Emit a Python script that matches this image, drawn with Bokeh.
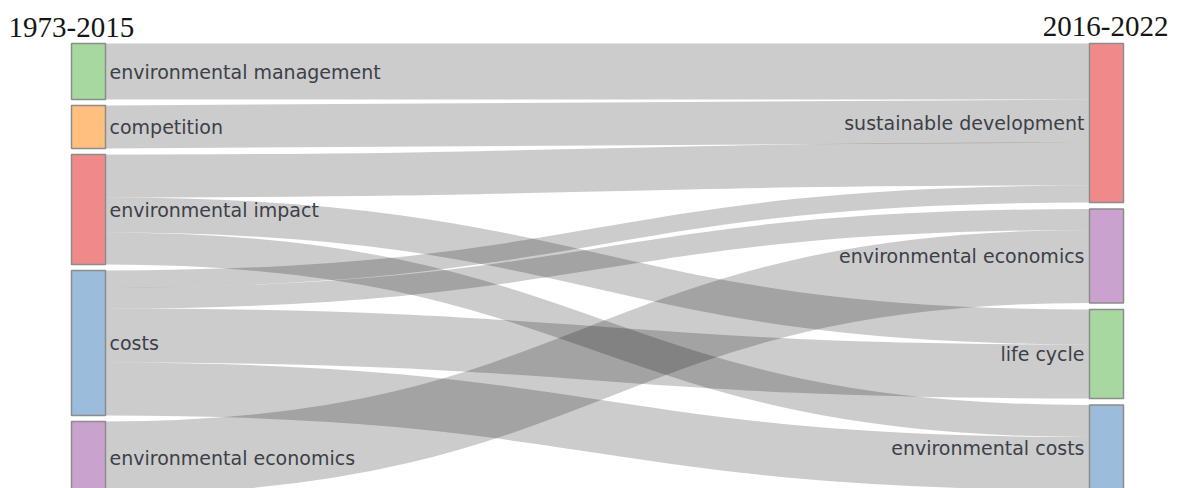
from bokeh.plotting import figure
from bokeh.models import Range1d, ColumnDataSource
from bokeh.core.properties import value
from bokeh.embed import file_html
from bokeh.resources import INLINE

# ---- data ----
left_nodes = ["environmental management", "competition", "environmental impact",
              "costs", "environmental economics"]
right_nodes = ["sustainable development", "environmental economics",
               "life cycle", "environmental costs"]
left_colors = ["#a6d8a0", "#ffbf7f", "#f08a8a", "#9bbcda", "#c9a3cd"]
right_colors = ["#f08a8a", "#c9a3cd", "#a6d8a0", "#9bbcda"]

link_source = [0, 1, 2, 2, 2, 3, 3, 3, 3, 4]
link_target = [0, 0, 0, 2, 3, 0, 1, 2, 3, 1]
link_value = [56, 43, 43, 35, 32, 17, 21, 54, 53, 73]

period_labels = ["1973-2015", "2016-2022"]

# ---- layout (pixel-like data space) ----
W, H = 1172, 488
top = 43.0
scale = 1.0
left_gap, right_gap = 6.0, 6.5
lx0, lx1 = 71, 105
rx0, rx1 = 1089, 1123


def stack(n, totals, gap):
    y0s, y1s = [], []
    y = top
    for i in range(n):
        y0s.append(y)
        y += totals[i] * scale
        y1s.append(y)
        y += gap
    return y0s, y1s


ltot = [sum(v for s, v in zip(link_source, link_value) if s == i) for i in range(len(left_nodes))]
rtot = [sum(v for t, v in zip(link_target, link_value) if t == i) for i in range(len(right_nodes))]
ly0, ly1 = stack(len(left_nodes), ltot, left_gap)
ry0, ry1 = stack(len(right_nodes), rtot, right_gap)

idx = list(range(len(link_value)))
ys = [0.0] * len(idx)
yt = [0.0] * len(idx)
for i in range(len(left_nodes)):
    off = ly0[i]
    for k in sorted([k for k in idx if link_source[k] == i], key=lambda k: link_target[k]):
        w = link_value[k] * scale
        ys[k] = off + w / 2
        off += w
for j in range(len(right_nodes)):
    off = ry0[j]
    for k in sorted([k for k in idx if link_target[k] == j], key=lambda k: link_source[k]):
        w = link_value[k] * scale
        yt[k] = off + w / 2
        off += w

xm = (lx1 + rx0) / 2
links = ColumnDataSource(dict(
    x0=[lx1] * len(idx), y0=ys, x1=[rx0] * len(idx), y1=yt,
    cx0=[xm] * len(idx), cy0=ys, cx1=[xm] * len(idx), cy1=yt,
    w=[v * scale for v in link_value],
))

p = figure(width=W, height=H, x_range=Range1d(0, W), y_range=Range1d(H, 0),
           output_backend="svg", toolbar_location=None, min_border=0,
           x_axis_location=None, y_axis_location=None)
p.grid.visible = False
p.outline_line_color = None
p.background_fill_color = "white"

p.bezier(x0="x0", y0="y0", x1="x1", y1="y1", cx0="cx0", cy0="cy0", cx1="cx1", cy1="cy1",
         source=links, line_color="black", line_alpha=0.2, line_width="w")

# nodes
p.quad(left=[lx0] * len(left_nodes), right=[lx1] * len(left_nodes), top=ly0, bottom=ly1,
       fill_color=left_colors, line_color="#8c8c8c", line_width=1.5)
p.quad(left=[rx0] * len(right_nodes), right=[rx1] * len(right_nodes), top=ry0, bottom=ry1,
       fill_color=right_colors, line_color="#8c8c8c", line_width=1.5)

# labels
lab_font = value("DejaVu Sans")
p.text(x=[lx1 + 4] * len(left_nodes), y=[(a + b) / 2 for a, b in zip(ly0, ly1)], text=left_nodes,
       text_font=lab_font, text_font_size="19px", text_color="#3c4048",
       text_align="left", text_baseline="middle")
p.text(x=[rx0 - 5] * len(right_nodes), y=[(a + b) / 2 for a, b in zip(ry0, ry1)], text=right_nodes,
       text_font=lab_font, text_font_size="19px", text_color="#3c4048",
       text_align="right", text_baseline="middle")

# period headers
p.text(x=[8], y=[27], text=[period_labels[0]], text_font=value("Liberation Serif"),
       text_font_size="29px", text_color="#151515", text_align="left", text_baseline="middle")
p.text(x=[1168], y=[26], text=[period_labels[1]], text_font=value("Liberation Serif"),
       text_font_size="29px", text_color="#151515", text_align="right", text_baseline="middle")

open("out.html", "w").write(file_html(p, INLINE))
